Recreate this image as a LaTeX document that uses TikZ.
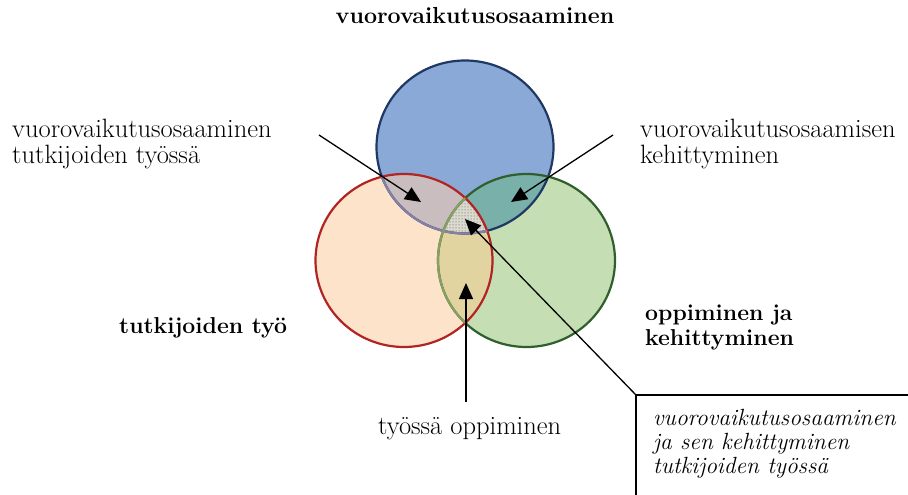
\documentclass[tikz,border=0pt]{standalone}
\usetikzlibrary{arrows.meta,patterns}
\definecolor{bluefill}{RGB}{138,169,214}
\definecolor{blueline}{RGB}{31,56,100}
\definecolor{redfill}{RGB}{252,227,201}
\definecolor{redline}{RGB}{178,36,36}
\definecolor{greenfill}{RGB}{198,222,179}
\definecolor{greenline}{RGB}{47,95,45}
\definecolor{brfill}{RGB}{201,189,191}
\definecolor{bgfill}{RGB}{122,176,170}
\definecolor{rgfill}{RGB}{226,212,160}
\definecolor{cfill}{RGB}{218,218,206}
\definecolor{bluefaded}{RGB}{135,128,165}
\definecolor{greenfaded}{RGB}{138,160,98}
\begin{document}
\begin{tikzpicture}[x=1pt,y=-1pt,
  lbl/.style={inner sep=0pt, anchor=base west, align=left, font=\fontsize{26.5}{25.5}\selectfont},
  blbl/.style={inner sep=0pt, anchor=base west, align=left, font=\fontsize{23}{24.5}\selectfont\bfseries},
  ilbl/.style={inner sep=0pt, anchor=base west, align=left, font=\fontsize{23.4}{24}\selectfont\itshape},
  arr/.style={line width=1.3pt, -{Triangle[length=16pt,width=14pt]}},
  ring/.style={line width=2.2pt}]
\useasboundingbox (0,0) rectangle (908,495);
\def\cB{(465,147) ellipse [x radius=88.5pt, y radius=86.5pt]}
\def\cR{(404,260.5) ellipse [x radius=88.5pt, y radius=86.5pt]}
\def\cG{(526.5,260.5) ellipse [x radius=88.5pt, y radius=86.5pt]}
% base fills
\fill[redfill] \cR;
\fill[greenfill] \cG;
\fill[bluefill] \cB;
% pairwise overlaps
\begin{scope}\clip \cB; \fill[brfill] \cR; \end{scope}
\begin{scope}\clip \cB; \fill[bgfill] \cG; \end{scope}
\begin{scope}\clip \cR; \fill[rgfill] \cG; \end{scope}
% centre
\begin{scope}\clip \cB; \clip \cR; \fill[cfill] \cG; \fill[pattern=dots, pattern color=black!70] \cG; \end{scope}
% outlines
\draw[ring, blueline] \cB;
\draw[ring, greenline] \cG;
\draw[ring, redline] \cR;
\begin{scope}\clip \cR; \draw[ring, bluefaded] \cB; \draw[ring, greenfaded] \cG; \end{scope}
% text
\node[inner sep=0pt, anchor=base, font=\fontsize{23.2}{24}\selectfont\bfseries] (title) at (475,24) {vuorovaikutusosaaminen};
\node[lbl] (leftlbl) at (12,163) {vuorovaikutusosaaminen\\tutkijoiden työssä};
\node[lbl] (rightlbl) at (640,163) {vuorovaikutusosaamisen\\kehittyminen};
\node[blbl] (worklbl) at (119,333) {tutkijoiden työ};
\node[blbl] (learnlbl) at (645,345) {oppiminen ja\\kehittyminen};
\node[lbl] (wllbl) at (378,434) {työssä oppiminen};
\node[ilbl] (boxtxt) at (653,473) {vuorovaikutusosaaminen\\ja sen kehittyminen\\tutkijoiden työssä};
% box
\coordinate (boxc) at (636,395);
\coordinate (boxr) at (908,395);
\coordinate (boxb) at (636,495);
\draw[line width=1.2pt] (boxr) -- (boxc) -- (boxb);
% arrows
\coordinate (sL) at (319,135);
\coordinate (sR) at (613,135);
\coordinate (sB) at (466,402);
\coordinate (tBR) at (421,202);
\coordinate (tBG) at (511,202);
\coordinate (tC) at (465,219);
\coordinate (tRG) at (466,283);
\draw[arr] (sL) -- (tBR);
\draw[arr] (sR) -- (tBG);
\draw[arr] (boxc) -- (tC);
\draw[arr] (sB) -- (tRG);
\end{tikzpicture}
\end{document}
